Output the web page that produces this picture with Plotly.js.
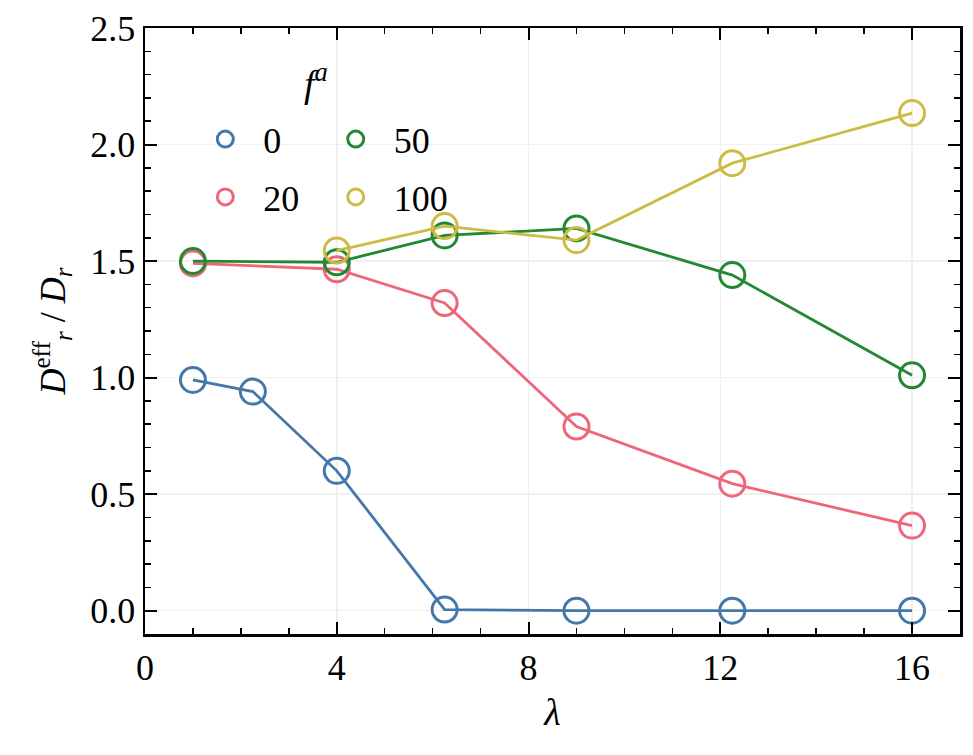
<!DOCTYPE html>
<html>
<head>
<meta charset="utf-8">
<script src="https://cdn.plot.ly/plotly-3.0.1.min.js"></script>
<style>
  html, body { margin: 0; padding: 0; background: #fff; }
  #chart { width: 973px; height: 755px; }
</style>
</head>
<body>
<div id="chart"></div>
<script>
// lambda values (squares of 1..4 in half steps)
const lambdaAll = [1, 2.25, 4, 6.25, 9, 12.25, 16];
const lambda20 = [1, 4, 6.25, 9, 12.25, 16];
const lambda50 = [1, 4, 6.25, 9, 12.25, 16];
const lambda100 = [4, 6.25, 9, 12.25, 16];

// D_r^eff / D_r
const dr0 = [0.99, 0.94, 0.60, 0.005, 0.0, 0.0, 0.0];
const dr20 = [1.49, 1.465, 1.32, 0.79, 0.545, 0.365];
const dr50 = [1.50, 1.495, 1.61, 1.64, 1.44, 1.01];
const dr100 = [1.545, 1.65, 1.59, 1.92, 2.135];

const faLabels = ['0', '20', '50', '100'];
const colors = ['#4477AA', '#EE6677', '#228833', '#CCBB44'];

const FONT = "'Liberation Serif', 'Times New Roman', serif";

// one line trace (no legend) + one marker trace (legend shows marker only)
function series(x, y, i, legendId) {
    return [{
        x: x, y: y, type: 'scatter', mode: 'lines', showlegend: false,
        line: { color: colors[i], width: 2.8 }, hoverinfo: 'skip',
    }, {
        x: x, y: y, type: 'scatter', mode: 'markers', name: '\u2002' + faLabels[i],
        legend: legendId, legendgroup: 'g' + i,
        marker: { symbol: 'circle-open', size: 25, color: colors[i], line: { width: 3, color: colors[i] } },
    }];
}

const data = [].concat(
    series(lambdaAll, dr0, 0, 'legend'),
    series(lambda20, dr20, 1, 'legend'),
    series(lambda50, dr50, 2, 'legend2'),
    series(lambda100, dr100, 3, 'legend2')
);

const axisCommon = {
    showline: true, linecolor: '#000', linewidth: 2.5, mirror: 'allticks',
    ticks: 'inside', ticklen: 12, tickwidth: 2, tickcolor: '#000',
    showgrid: true, gridcolor: '#f0f0f0', gridwidth: 1.5, zeroline: false,
    tickfont: { family: FONT, size: 36, color: '#000' },
};

const legendCommon = {
    font: { family: FONT, size: 36, color: '#000' },
    bgcolor: 'rgba(0,0,0,0)', borderwidth: 0,
    tracegroupgap: 8, itemsizing: 'trace',
    xanchor: 'left', yanchor: 'top', y: 0.866,
};

const layout = {
    width: 973, height: 755,
    margin: { l: 145, r: 13, t: 28, b: 121 },
    paper_bgcolor: '#fff', plot_bgcolor: '#fff',
    font: { family: FONT, color: '#000' },
    showlegend: true,
    xaxis: Object.assign({}, axisCommon, {
        range: [0, 17], tickvals: [0, 4, 8, 12, 16], ticktext: ['0', '4', '8', '12', '16'],
        minor: { dtick: 1, tick0: 0, ticks: 'inside', ticklen: 6, tickwidth: 1.5, tickcolor: '#000', showgrid: false },
        title: { text: '<i>λ</i>', font: { family: FONT, size: 38, color: '#000' }, standoff: 12 },
    }),
    yaxis: Object.assign({}, axisCommon, {
        range: [-0.1, 2.5], tickvals: [0, 0.5, 1, 1.5, 2, 2.5], ticktext: ['0.0', '0.5', '1.0', '1.5', '2.0', '2.5'],
        minor: { dtick: 0.1, tick0: 0, ticks: 'inside', ticklen: 6, tickwidth: 1.5, tickcolor: '#000', showgrid: false },
        title: { text: '<i>D</i><sup>eff</sup><sub><i>r</i></sub> / <i>D</i><sub><i>r</i></sub>', font: { family: FONT, size: 36, color: '#000' }, standoff: 14 },
    }),
    legend: Object.assign({}, legendCommon, { x: 0.074 }),
    legend2: Object.assign({}, legendCommon, { x: 0.234 }),
    annotations: [{
        text: '<i>f</i><sup><i>a</i></sup>', xref: 'paper', yref: 'paper', x: 0.21, y: 0.955,
        xanchor: 'center', yanchor: 'top', showarrow: false,
        font: { family: FONT, size: 38, color: '#000' },
    }],
};

Plotly.newPlot('chart', data, layout, { displayModeBar: false, staticPlot: true });
</script>
</body>
</html>
